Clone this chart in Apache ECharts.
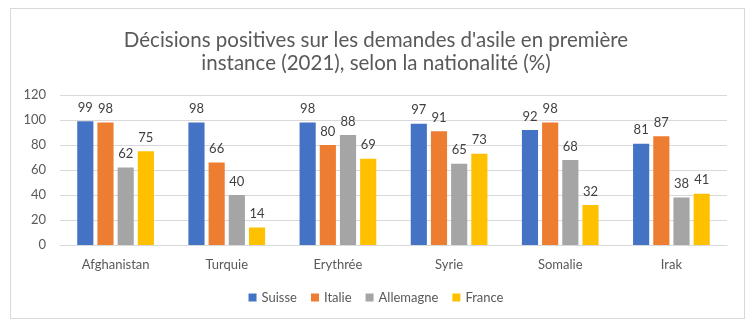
<!DOCTYPE html>
<html><head><meta charset="utf-8">
<script src="https://cdn.jsdelivr.net/npm/echarts@6/dist/echarts.min.js"></script>
<style>html,body{margin:0;padding:0;background:#fff}#c{width:752px;height:326px}
#frame{position:absolute;left:10px;top:8px;width:733px;height:309px;border:1px solid #d9d9d9;pointer-events:none}</style>
</head><body><div id="c"></div><div id="frame"></div>
<script>
const categories = ['Afghanistan','Turquie','Erythrée','Syrie','Somalie','Irak'];
const suisse = [99,98,98,97,92,81];
const italie = [98,66,80,91,98,87];
const allemagne = [62,40,88,65,68,38];
const france = [75,14,69,73,32,41];
const yTicks = {min:0,max:120,interval:20};
const font = 'Lato';
const chart = echarts.init(document.getElementById('c'));
const mk = (name, data, color) => ({
  name, type:'bar', data, barGap:'25%', barCategoryGap:'31%',
  itemStyle:{color},
  label:{show:true, position:'top', distance:7, color:'#404040', fontSize:13, fontFamily:font}
});
chart.setOption({
  animation:false,
  title:{text:"Décisions positives sur les demandes d'asile en première\ninstance (2021), selon la nationalité (%)",
    left:'center', top:24, textStyle:{color:'#595959', fontSize:20.5, fontWeight:'normal', fontFamily:font, lineHeight:23}},
  legend:{bottom:17, left:'center', itemWidth:8, itemHeight:8, itemGap:14, icon:'rect',
    textStyle:{color:'#595959', fontSize:13, fontFamily:font}},
  grid:{left:60, right:25, top:95, bottom:81},
  xAxis:{type:'category', data:categories, axisTick:{show:false},
    axisLine:{lineStyle:{color:'#d9d9d9'}},
    axisLabel:{color:'#595959', fontSize:13, fontFamily:font, margin:13}},
  yAxis:{type:'value', min:yTicks.min, max:yTicks.max, interval:yTicks.interval,
    axisLine:{show:false}, axisTick:{show:false},
    splitLine:{lineStyle:{color:'#d9d9d9'}},
    axisLabel:{color:'#595959', fontSize:13, fontFamily:font, margin:14}},
  series:[mk('Suisse',suisse,'#4472C4'), mk('Italie',italie,'#ED7D31'), mk('Allemagne',allemagne,'#A5A5A5'), mk('France',france,'#FFC000')]
});
</script></body></html>
